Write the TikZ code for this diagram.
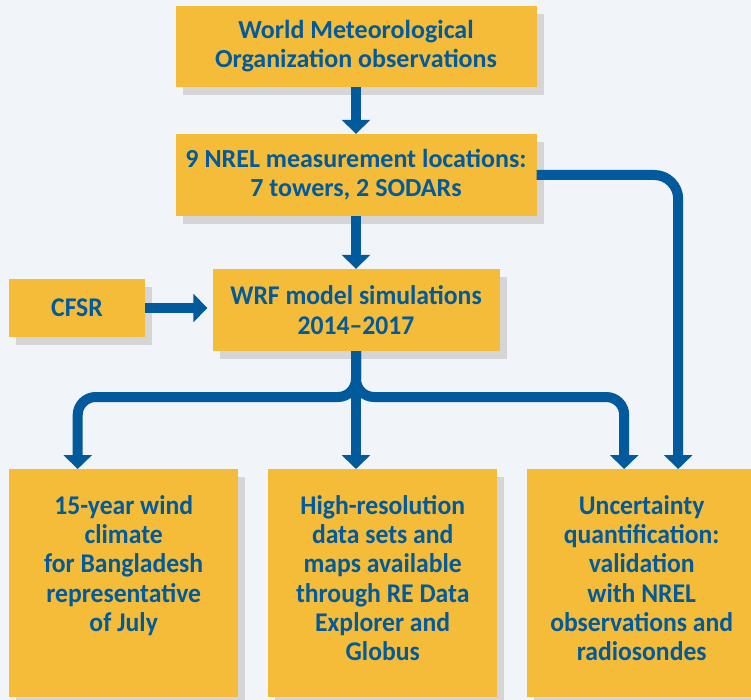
\documentclass[tikz,border=0pt]{standalone}
\usepackage{fontspec}
\setmainfont{Carlito}
\newfontfamily\condfont{Carlito}[FakeStretch=0.95]
\usetikzlibrary{arrows.meta}
\usetikzlibrary{shadows}
\definecolor{bgcol}{HTML}{F1F4F9}
\definecolor{boxcol}{HTML}{F5BC3A}
\definecolor{bluecol}{HTML}{005A9C}
\definecolor{shadowcol}{HTML}{D5D5D7}
\tikzset{
	box/.style={fill=boxcol, text=bluecol, inner sep=0pt, align=center,
		font=\bfseries\fontsize{26}{29}\selectfont,
		drop shadow={shadow xshift=7pt, shadow yshift=-8pt, fill=shadowcol, opacity=1}},
	condbox/.style={box, font=\condfont\bfseries\fontsize{27}{29.3}\selectfont},
	flow/.style={draw=bluecol, line width=10pt, -{Triangle[length=14pt, width=28pt]}, rounded corners=18pt},
}
\newcommand{\boxtext}[1]{\parbox[t][228pt][t]{229pt}{\centering\rule{0pt}{45pt}#1}}

\begin{document}
\begin{tikzpicture}[x=1pt, y=-1pt]
		\fill[bgcol] (0, 0) rectangle (751, 700);
		\useasboundingbox (0, 0) rectangle (751, 700);
		\node[box, minimum width=361, minimum height=81] (wmo) at (356, 46.5) {World Meteorological\\Organization observations};
		\node[box, minimum width=361, minimum height=82] (nrel) at (356, 175) {9 NREL measurement locations:\\7 towers, 2 SODARs};
		\node[condbox, minimum width=136, minimum height=58] (cfsr) at (77, 308) {CFSR};
		\node[condbox, minimum width=287, minimum height=82] (wrf) at (356, 310) {WRF model simulations\\2014–2017};
		\node[condbox, anchor=north west] (clim) at (9, 469) {\boxtext{15-year wind\\climate\\for Bangladesh\\representative\\of July}};
		\node[condbox, anchor=north west] (data) at (268, 469) {\boxtext{High-resolution\\data sets and\\maps available\\through RE Data\\Explorer and\\Globus}};
		\node[condbox, anchor=north west] (unc) at (527, 469) {\boxtext{Uncertainty\\quantification:\\validation\\with NREL\\observations and\\radiosondes}};
		\coordinate (split) at (356, 397);
		\draw[flow] (wmo) -- (nrel);
		\draw[flow] (nrel) -- (wrf);
		\draw[flow, shorten >=5pt] (cfsr.east) -- (cfsr.east -| wrf.west);
		\draw[flow, rounded corners=24pt] (nrel.east) -| ([xshift=36.5pt]unc.north);
		\draw[flow] (wrf.south) -- (split) -| ([xshift=-46pt]clim.north);
		\draw[flow] (wrf.south) -- (wrf.south |- data.north);
		\draw[flow] (wrf.south) -- (split) -| ([xshift=-17.5pt]unc.north);
	\end{tikzpicture}
\end{document}
